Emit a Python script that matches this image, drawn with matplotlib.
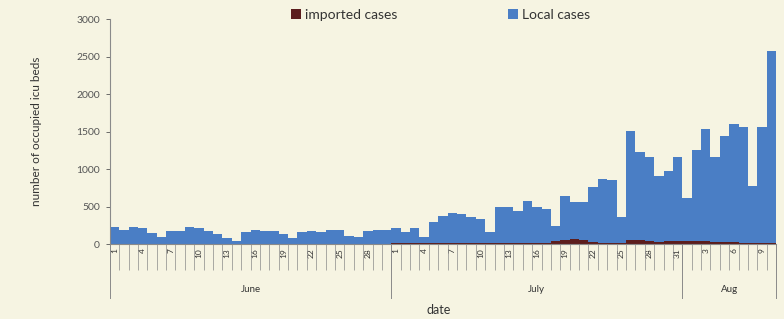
import matplotlib
matplotlib.use("Agg")
import matplotlib.pyplot as plt
import matplotlib.transforms as mtransforms
import numpy as np

# occupied icu beds per day, 1 June - 10 August
june_local = [215, 185, 225, 205, 145, 85, 165, 175, 225, 215, 175, 125, 75, 35, 155,
              185, 175, 165, 125, 75, 155, 165, 155, 175, 185, 105, 85, 175, 185, 175]
june_imported = [6, 5, 5, 6, 4, 5, 6, 5, 5, 4, 5, 5, 4, 5, 5,
                 6, 5, 5, 4, 5, 6, 5, 5, 6, 5, 5, 4, 5, 5, 6]

july_local = [210, 150, 208, 92, 285, 365, 395, 385, 345, 328, 150, 475, 485, 425, 555, 475,
              450, 200, 580, 490, 510, 735, 850, 840, 345, 1460, 1175, 1125, 880, 935, 1125]
july_imported = [10, 10, 12, 8, 15, 15, 15, 15, 15, 12, 10, 15, 15, 15, 15, 15,
                 20, 40, 60, 70, 50, 25, 20, 20, 15, 50, 55, 35, 30, 35, 35]

aug_local = [585, 1220, 1495, 1130, 1410, 1575, 1540, 755, 1545, 2570]
aug_imported = [35, 40, 35, 30, 30, 25, 20, 15, 15, 10]

months = ["June", "July", "Aug"]
month_days = [30, 31, 10]

june_ticks = [1, 4, 7, 10, 13, 16, 19, 22, 25, 28]
july_ticks = [1, 4, 7, 10, 13, 16, 19, 22, 25, 28, 31]
aug_ticks = [3, 6, 9]

local = np.array(june_local + july_local + aug_local)
imported = np.array(june_imported + july_imported + aug_imported)
x = np.arange(len(local))

BG = "#F6F4E2"
BLUE = "#4A7EC5"
DARK = "#5C1E1E"
AXC = "#8A8A8A"

plt.rcParams["font.family"] = ["Lato", "DejaVu Sans"]

fig = plt.figure(figsize=(7.84, 3.19), dpi=100, facecolor=BG)
ax = fig.add_axes([0.140, 0.235, 0.850, 0.705])
ax.set_facecolor(BG)

ax.bar(x, imported, width=1.0, color=DARK, linewidth=0, label="imported cases")
ax.bar(x, local, width=1.0, bottom=imported, color=BLUE, linewidth=0, label="Local cases")

ax.set_xlim(-0.5, len(local) - 0.5)
ax.set_ylim(0, 3000)
ax.set_yticks(np.arange(0, 3001, 500))
ax.tick_params(axis="y", labelsize=7.5, colors="#555555", length=3, width=0.6, pad=4)
ax.set_ylabel("number of occupied icu beds", fontsize=8.5, color="#333333")
ax.yaxis.set_label_coords(-0.102, 0.5)

for s in ["top", "right"]:
    ax.spines[s].set_visible(False)
for s in ["left", "bottom"]:
    ax.spines[s].set_color(AXC)
    ax.spines[s].set_linewidth(0.8)

# day labels every third day, tick lines between every day
starts = np.cumsum([0] + month_days[:-1])
tick_pos, tick_lab = [], []
for st, days in zip(starts, [june_ticks, july_ticks, aug_ticks]):
    for d in days:
        tick_pos.append(st + d - 1)
        tick_lab.append(str(d))
ax.set_xticks(tick_pos)
ax.set_xticklabels(tick_lab, rotation=90, fontsize=6, color="#333333")
ax.tick_params(axis="x", which="major", length=0, pad=3)
ax.set_xticks(np.arange(-0.5, len(local), 1.0), minor=True)
ax.tick_params(axis="x", which="minor", length=19, width=0.5, color=AXC)

# month level
trans = mtransforms.blended_transform_factory(ax.transData, ax.transAxes)
bounds = list(starts - 0.5) + [len(local) - 0.5]
for b in bounds:
    ax.plot([b, b], [0, -0.24], transform=trans, color=AXC, lw=0.7, clip_on=False)
for st, n, name in zip(starts, month_days, months):
    ax.text(st + n / 2 - 0.5, -0.2, name, transform=trans, ha="center", va="center",
            fontsize=7, color="#333333")

fig.text(0.56, 0.028, "date", ha="center", va="center", fontsize=9, color="#333333")

fig.legend(loc="center left", bbox_to_anchor=(0.355, 0.953), ncol=2, frameon=False,
           fontsize=10, handlelength=0.7, handleheight=0.7, handletextpad=0.3,
           columnspacing=8, labelcolor="#333333")

fig.savefig("out.png", dpi=100, facecolor=BG)
